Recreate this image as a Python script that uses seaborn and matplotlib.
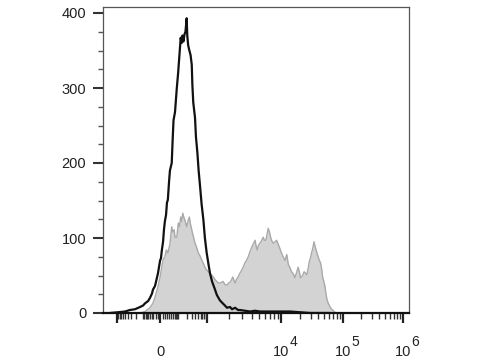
import numpy as np
import pandas as pd
import matplotlib
matplotlib.use("Agg")
import matplotlib.pyplot as plt
import seaborn as sns

# ---- data (x in display channel units, y = cell counts) ----
black_x = [23, 50, 74, 90, 107, 124, 134, 141, 151, 157, 164, 167, 174, 177, 184, 191, 194, 197,
           201, 204, 207, 211, 214, 217, 221, 224, 230, 233, 236, 241, 247, 251, 256, 260, 263, 266,
           269, 273, 276, 280, 282, 285, 289, 293, 297, 299, 302, 308, 311, 316, 320, 325, 330, 336,
           341, 347, 353, 358, 365, 375, 381, 391, 398, 408, 415, 425, 432, 442, 452, 458, 475, 492,
           509, 525, 559, 592, 626, 659, 693, 760]
black_y = [0, 1, 2, 4, 5, 8, 10, 13, 16, 20, 26, 31, 36, 41, 53, 70, 73, 84,
           95, 111, 122, 131, 147, 151, 175, 190, 200, 230, 257, 268, 300, 318, 345, 367, 360, 370,
           362, 372, 375, 393, 370, 357, 350, 344, 331, 305, 281, 260, 235, 213, 190, 168, 145, 124,
           100, 80, 65, 53, 42, 31, 24, 17, 14, 10, 7, 8, 5, 7, 4, 4, 3, 2,
           3, 2, 2, 2, 2, 1, 0, 0]

gray_x = [124, 141, 147, 157, 167, 174, 184, 191, 196, 201, 207, 212, 217, 224, 230, 233, 238, 241,
          247, 252, 256, 260, 263, 267, 271, 274, 280, 284, 289, 293, 297, 301, 308, 313, 319, 325,
          330, 336, 341, 346, 352, 360, 369, 376, 386, 391, 397, 402, 408, 415, 420, 425, 430, 434,
          438, 442, 447, 452, 458, 464, 470, 475, 480, 486, 492, 498, 504, 509, 512, 516, 520, 525,
          530, 536, 540, 545, 549, 553, 557, 561, 565, 570, 576, 581, 586, 592, 597, 603, 609, 615,
          620, 626, 631, 637, 642, 647, 653, 657, 661, 668, 673, 678, 682, 686, 690, 694, 698, 703,
          706, 709, 713, 716, 720, 724, 728, 732, 735, 739, 743, 746, 750, 755, 760, 765, 769, 773, 780]
gray_y = [0, 2, 4, 7, 13, 21, 35, 48, 60, 71, 75, 84, 80, 92, 115, 108, 111, 101,
          101, 120, 115, 128, 122, 133, 127, 124, 115, 122, 128, 118, 111, 104, 93, 88, 80, 76,
          71, 66, 61, 58, 55, 52, 48, 44, 40, 40, 41, 42, 38, 37, 40, 41, 44, 48,
          44, 40, 45, 48, 53, 57, 62, 67, 70, 75, 82, 88, 93, 97, 90, 84, 90, 93,
          96, 101, 97, 97, 105, 113, 108, 101, 96, 93, 95, 97, 92, 86, 80, 75, 70, 78,
          65, 60, 55, 52, 47, 53, 61, 55, 47, 50, 55, 53, 51, 58, 68, 73, 80, 88,
          95, 90, 84, 80, 75, 70, 67, 58, 48, 42, 35, 26, 17, 12, 8, 5, 4, 2, 0]

major_tick_values = [-1e3, 0, 1e3, 1e4, 1e5, 1e6]
major_tick_bases = ["", "0", "", "10", "10", "10"]
major_tick_exponents = ["", "", "", "4", "5", "6"]
y_ticks = [0, 100, 200, 300, 400]

# ---- display transform for tick placement (biexponential-like axis) ----
DEC_POS = {3: 348, 4: 596, 5: 803, 6: 1004}
ZERO, NEG1K = 191, 47

def to_display(v):
    if v == 0:
        return ZERO
    if abs(v) < 1e3 or (v < 0):
        s = np.arcsinh(abs(v) / 50.0) / np.arcsinh(20.0)
        return ZERO + (DEC_POS[3] - ZERO) * s if v > 0 else ZERO - (ZERO - NEG1K) * s
    k = int(np.floor(np.log10(v) + 1e-9))
    if k >= 6:
        return DEC_POS[6]
    frac = np.log10(v) - k
    return DEC_POS[k] + frac * (DEC_POS[k + 1] - DEC_POS[k])

minor_vals = []
for sgn in (1, -1):
    for base in (10, 100):
        for m in range(1, 10):
            if base == 10 and m == 1:
                continue
            minor_vals.append(sgn * m * base)
    minor_vals.append(sgn * 10)
for k in (3, 4, 5):
    for m in range(2, 10):
        minor_vals.append(m * 10 ** k)
minor_pos = [to_display(v) for v in minor_vals]
major_pos = [to_display(v) for v in major_tick_values]

# ---- figure ----
sns.set_style("ticks")
plt.rcParams["font.family"] = ["Liberation Sans", "DejaVu Sans"]

fig = plt.figure(figsize=(4.8, 3.6), dpi=100)
ax = fig.add_axes([103 / 480, 47 / 360, 306 / 480, 306 / 360])

ax.fill_between(gray_x, gray_y, 0, color="#d3d3d3", linewidth=0, zorder=1)
sns.lineplot(x=gray_x, y=gray_y, ax=ax, color="#a9a9a9", linewidth=1.0, zorder=2, sort=False)
sns.lineplot(x=black_x, y=black_y, ax=ax, color="#111111", linewidth=1.6, zorder=3, sort=False)

ax.set_xlim(0, 1024)
ax.set_ylim(0, 408)
ax.set_xlabel("")
ax.set_ylabel("")

ax.set_yticks(y_ticks)
ax.set_yticks(np.arange(25, 400, 25), minor=True)
ax.set_yticklabels([str(t) for t in y_ticks], fontsize=10.5, color="#222222")

ax.set_xticks(major_pos)
ax.set_xticks(minor_pos, minor=True)
ax.set_xticklabels(major_tick_bases, fontsize=10.5, color="#222222")
for lab in ax.get_xticklabels():
    lab.set_verticalalignment("baseline")

# superscript exponents drawn as separate, near full-size text
for p, e in zip(major_pos, major_tick_exponents):
    if e:
        ax.annotate(e, xy=(p, 0), xycoords="data", xytext=(6, -24), textcoords="offset points",
                    ha="left", va="baseline", fontsize=10, color="#222222", annotation_clip=False)

ax.tick_params(axis="y", which="major", length=7, width=1.5, pad=5, color="#333333")
ax.tick_params(axis="y", which="minor", length=3.5, width=1.0, color="#555555")
ax.tick_params(axis="x", which="major", length=7, width=1.6, pad=24, color="#222222")
ax.tick_params(axis="x", which="minor", length=4, width=1.0, color="#333333")

for side in ("top", "right", "left"):
    ax.spines[side].set_visible(True)
    ax.spines[side].set_linewidth(0.9)
    ax.spines[side].set_color("#555555")
ax.spines["bottom"].set_linewidth(1.6)
ax.spines["bottom"].set_color("#111111")

fig.savefig("out.png", dpi=100)
